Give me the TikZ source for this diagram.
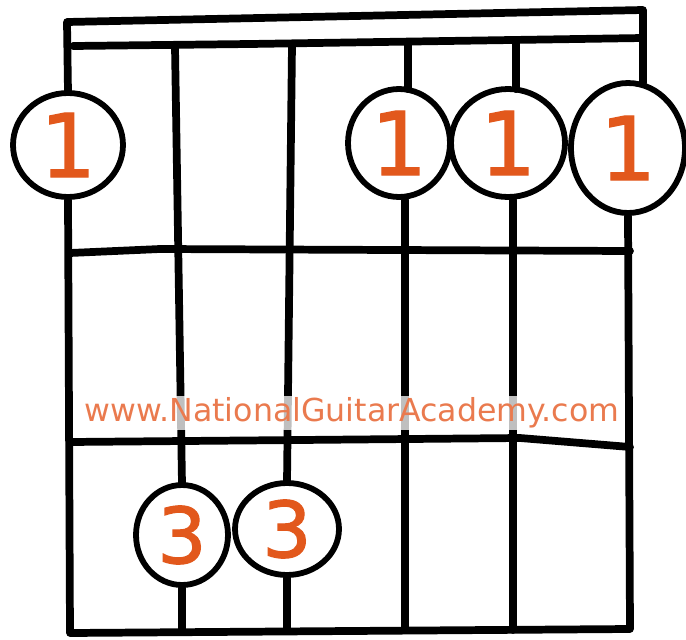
\documentclass[tikz,border=0pt]{standalone}
\usepackage{fontspec}
\usepackage{tikz}
\usetikzlibrary{shapes.geometric,positioning,calc}
\newfontfamily\handfont{DejaVu Sans}
\newfontfamily\digitfont[FakeBold=1.6]{DejaVu Sans}
\definecolor{fingerorange}{RGB}{226, 88, 28}
\definecolor{urlorange}{RGB}{234, 122, 78}

\begin{document}
\begin{tikzpicture}[
    x=0.02cm, y=-0.02cm,
    wire/.style={line width=4.4pt, black, line cap=round, line join=round},
    finger/.style={ellipse, draw=black, line width=3.3pt, fill=white, inner sep=0pt, text=fingerorange, font=\digitfont\fontsize{50}{50}\selectfont},
    lowfinger/.style={finger, font=\digitfont\fontsize{44}{44}\selectfont},
    url/.style={fill=white, fill opacity=0.75, text opacity=1, text=urlorange, inner sep=1pt, font=\handfont\fontsize{18}{18}\selectfont},
]
\useasboundingbox (0,0) rectangle (686,639);

% barre on fret one
\node[finger, minimum width=2.2cm, minimum height=2.08cm] (b1) at (68,145) {1};
\node[finger, minimum width=2.04cm, minimum height=2.16cm] (b4) at (399,143) {1};
\node[finger, minimum width=2.28cm, minimum height=2.16cm] (b5) at (508,143) {1};
\node[finger, minimum width=2.28cm, minimum height=2.6cm] (b6) at (628,148) {1};

% fret three
\node[lowfinger, minimum width=1.84cm, minimum height=2.0cm] (t2) at (182,535) {3};
\node[lowfinger, minimum width=2.08cm, minimum height=1.84cm] (t3) at (287,529) {3};

% nut and frame
\coordinate (topL) at (67,22);
\coordinate (topR) at (643,10);
\coordinate (botL) at (70,633);
\coordinate (botR) at (630,629);
\draw[wire] ($(b1.north)+(0,2)$) -- (topL) -- (topR) -- ($(topR |- b6.north)+(0,3)$);
\draw[wire] (73,46) -- (250,44) -- (643,38);
\draw[wire] (b1.south) -- (botL) -- (botR) -- (b6.south);

% frets
\draw[wire] (70,253) -- (160,249) -- (630,251);
\draw[wire] (70,442) -- (300,440) -- (520,438) -- (630,447);

% strings
\coordinate (s2top) at (175,47);
\coordinate (s3top) at (292,45);
\coordinate (s4top) at (408,43);
\coordinate (s5top) at (516,41);
\draw[wire] (s2top) -- ($(t2.north)+(0,2)$);
\draw[wire] (t2.south) -- (182,630);
\draw[wire] (s3top) -- ($(t3.north)+(0,2)$);
\draw[wire] (t3.south) -- (287,630);
\draw[wire] (s4top) -- ($(s4top |- b4.north)+(0,3)$);
\draw[wire] ($(b4.south)+(6,0)$) -- (405,630);
\draw[wire] (s5top) -- ($(s5top |- b5.north)+(0,3)$);
\draw[wire] ($(b5.south)+(5,0)$) -- (513,630);

\node[url] (site) at (352,413) {www.NationalGuitarAcademy.com};
\end{tikzpicture}
\end{document}
